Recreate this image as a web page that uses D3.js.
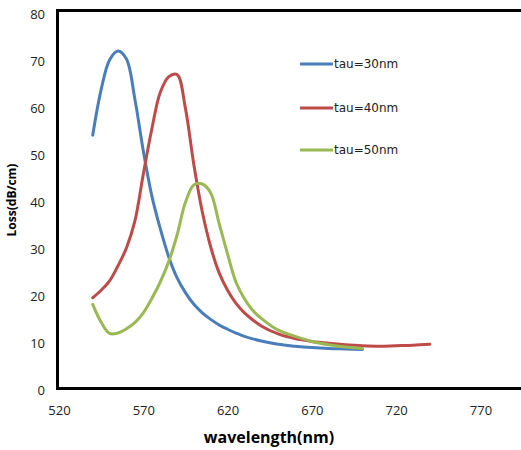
<!DOCTYPE html>
<html>
<head>
<meta charset="utf-8">
<script src="https://cdn.jsdelivr.net/npm/d3@7"></script>
<style>
  body { margin: 0; background: #fff; }
  svg { display: block; }
</style>
</head>
<body>
<div class="canvas"></div>
<script>
const svgWidth = 521;
const svgHeight = 450;

// data
const seriesNames = ['tau=30nm', 'tau=40nm', 'tau=50nm'];
const colors = ['#4a7ebb', '#be4b48', '#98b954'];

const wl30 = [540, 545, 550, 555, 560, 565, 570, 575, 580, 585, 590, 595, 600, 605, 610, 615, 620, 625, 630, 640, 650, 660, 670, 680, 690, 700];
const loss30 = [53.8, 63.5, 69.8, 71.7, 70, 61.5, 50.5, 41, 34, 28, 23.5, 20.3, 17.8, 16, 14.6, 13.4, 12.5, 11.7, 11, 10, 9.3, 8.9, 8.6, 8.4, 8.3, 8.2];

const wl40 = [540, 545, 550, 555, 560, 565, 570, 575, 580, 585, 590, 595, 600, 605, 610, 615, 620, 625, 630, 640, 650, 660, 670, 680, 690, 700, 710, 720, 730, 740];
const loss40 = [19.2, 20.8, 22.8, 26, 29.8, 35.5, 45.5, 55, 62.8, 66.2, 66.7, 59.5, 47.5, 37.5, 30, 24.5, 20.8, 18, 16, 13.2, 11.5, 10.5, 9.9, 9.5, 9.2, 9.0, 8.9, 9.0, 9.1, 9.3];

const wl50 = [540, 545, 550, 555, 560, 565, 570, 575, 580, 585, 590, 595, 600, 605, 610, 615, 620, 625, 630, 635, 640, 650, 660, 670, 680, 690, 700];
const loss50 = [17.8, 14, 11.6, 11.7, 12.6, 13.9, 16, 19, 22.5, 26.8, 32.5, 39.5, 43.2, 43.4, 41.5, 35, 28.5, 22.5, 19, 16.5, 14.8, 12.3, 11, 9.9, 9.2, 8.7, 8.4];

const xTicks = [520, 570, 620, 670, 720, 770];
const yTicks = [0, 10, 20, 30, 40, 50, 60, 70, 80];

const series = [
    { name: seriesNames[0], color: colors[0], pts: wl30.map((w, i) => ({ w: w, v: loss30[i] })) },
    { name: seriesNames[1], color: colors[1], pts: wl40.map((w, i) => ({ w: w, v: loss40[i] })) },
    { name: seriesNames[2], color: colors[2], pts: wl50.map((w, i) => ({ w: w, v: loss50[i] })) }
];

const svg = d3.select('.canvas')
    .append('svg')
    .attr('width', svgWidth)
    .attr('height', svgHeight);

// scales - plot box runs off the right edge like the original
const x = d3.scaleLinear().domain([520, 800]).range([59, 531]);
const y = d3.scaleLinear().domain([0, 80]).range([388, 12]);

// axes (labels only, no tick marks)
const xAxis = d3.axisBottom(x).tickValues(xTicks).tickSize(0).tickPadding(0);
const yAxis = d3.axisLeft(y).tickValues(yTicks).tickSize(0).tickPadding(0);

const xAxisGroup = svg.append('g')
    .attr('transform', 'translate(0, 406)')
    .call(xAxis);
const yAxisGroup = svg.append('g')
    .attr('transform', 'translate(45, 2)')
    .call(yAxis);

[xAxisGroup, yAxisGroup].forEach(g => {
    g.select('.domain').remove();
    g.selectAll('text')
        .attr('font-family', 'Open Sans, sans-serif')
        .attr('font-size', 13)
        .attr('fill', '#222');
});

// frame
svg.append('rect')
    .attr('x', x(520) - 1.5)
    .attr('y', 10.5)
    .attr('width', 600)
    .attr('height', 378)
    .attr('fill', 'none')
    .attr('stroke', '#000')
    .attr('stroke-width', 3);

// lines, smoothed like the spreadsheet did
const line = d3.line()
    .x(d => x(d.w))
    .y(d => y(d.v))
    .curve(d3.curveCatmullRom.alpha(0.5));

svg.selectAll('path.series')
    .data(series)
    .enter()
    .append('path')
        .attr('class', 'series')
        .attr('d', d => line(d.pts))
        .attr('fill', 'none')
        .attr('stroke', d => d.color)
        .attr('stroke-width', 3)
        .attr('stroke-linecap', 'round');

// legend
const legendY = [64, 108, 150];
const legend = svg.selectAll('g.legend')
    .data(series)
    .enter()
    .append('g')
        .attr('class', 'legend')
        .attr('transform', (d, i) => `translate(300, ${legendY[i]})`);

legend.append('line')
    .attr('x1', 0).attr('x2', 33)
    .attr('stroke', d => d.color)
    .attr('stroke-width', 3);

legend.append('text')
    .attr('x', 34)
    .attr('dy', '0.35em')
    .attr('font-family', 'DejaVu Sans, sans-serif')
    .attr('font-size', 12)
    .attr('fill', '#222')
    .text(d => d.name);

// axis titles
svg.append('text')
    .attr('x', 269)
    .attr('y', 443)
    .attr('text-anchor', 'middle')
    .attr('font-family', 'Open Sans, sans-serif')
    .attr('font-weight', 'bold')
    .attr('font-size', 16)
    .text('wavelength(nm)');

svg.append('text')
    .attr('transform', 'translate(16, 200) rotate(-90)')
    .attr('text-anchor', 'middle')
    .attr('font-family', 'Open Sans, sans-serif')
    .attr('font-weight', 'bold')
    .attr('font-size', 12)
    .text('Loss(dB/cm)');
</script>
</body>
</html>
